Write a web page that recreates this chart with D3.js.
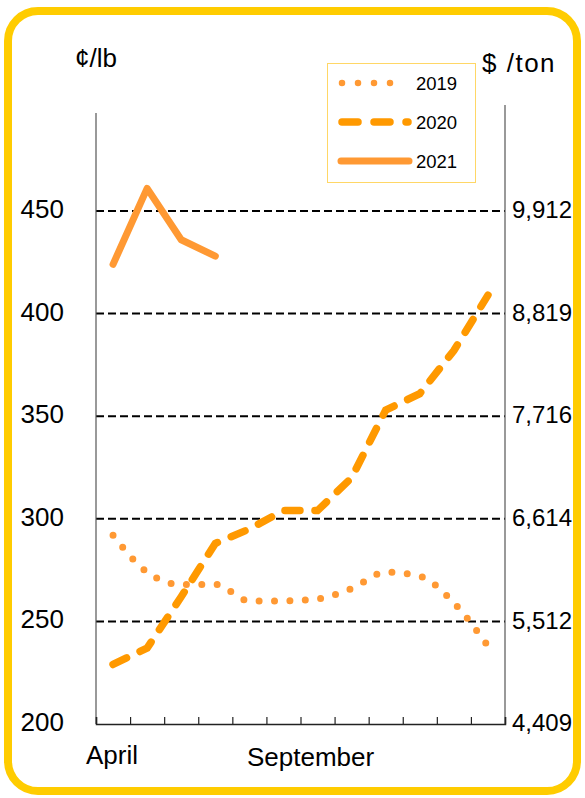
<!DOCTYPE html>
<html>
<head>
<meta charset="utf-8">
<script src="https://cdn.jsdelivr.net/npm/d3@7"></script>
<style>
  body { margin: 0; background: #fff; }
  svg { display: block; font-family: "Liberation Sans", Arial, sans-serif; }
</style>
</head>
<body>
<script>
// Data
const months = ["Apr", "May", "Jun", "Jul", "Aug", "Sep", "Oct", "Nov", "Dec", "Jan", "Feb", "Mar"];
const monthLabels = [{ i: 0, text: "April" }, { i: 5, text: "September" }];
const series2019 = [292, 274, 268, 268, 260, 260, 261, 266, 274, 272, 259, 238];
const series2020 = [229, 237, 262, 288, 295, 304, 304, 320, 353, 361, 382, 409];
const series2021 = [424, 461, 436, 428];
const leftTicks = [200, 250, 300, 350, 400, 450];
const rightTickLabels = ["4,409", "5,512", "6,614", "7,716", "8,819", "9,912"];

const width = 585, height = 798;
const margin = { left: 96, right: 80, top: 100, bottom: 74 };

const svg = d3.select("body").append("svg")
    .attr("width", width)
    .attr("height", height);

// Yellow frame
svg.append("rect")
    .attr("x", 8).attr("y", 11)
    .attr("width", 569).attr("height", 780)
    .attr("rx", 30).attr("ry", 30)
    .attr("fill", "white")
    .attr("stroke", "#FFCC00")
    .attr("stroke-width", 8);

const x = d3.scaleLinear().domain([0, 12]).range([margin.left, width - margin.right]);
const y = d3.scaleLinear().domain([200, 450]).range([724, 211]);

// Gridlines
svg.selectAll(".grid")
    .data(leftTicks.filter(d => d > 200))
    .enter()
    .append("line")
    .attr("class", "grid")
    .attr("x1", x(0))
    .attr("x2", x(12))
    .attr("y1", d => y(d))
    .attr("y2", d => y(d))
    .attr("stroke", "#000")
    .attr("stroke-width", 2)
    .attr("stroke-dasharray", "8 4");

// Axes lines
svg.append("line")
    .attr("x1", x(0)).attr("x2", x(0))
    .attr("y1", 113).attr("y2", y(200))
    .attr("stroke", "#555").attr("stroke-width", 1.2);
svg.append("line")
    .attr("x1", x(12)).attr("x2", x(12))
    .attr("y1", 105).attr("y2", y(200))
    .attr("stroke", "#555").attr("stroke-width", 1.2);

// Bottom axis with ticks pointing up
const xAxis = d3.axisBottom(x).tickValues(d3.range(0, 13)).tickSize(-7).tickFormat("");
const gx = svg.append("g")
    .attr("transform", `translate(0,${y(200)})`)
    .call(xAxis);
gx.select(".domain").attr("stroke", "#222").attr("stroke-width", 1.5);
gx.selectAll(".tick line").attr("stroke", "#222").attr("stroke-width", 1.2);

// Left tick labels
svg.selectAll(".leftLabels")
    .data(leftTicks)
    .enter()
    .append("text")
    .attr("class", "leftLabels")
    .attr("x", 64)
    .attr("y", d => y(d))
    .attr("dy", "0.27em")
    .attr("text-anchor", "end")
    .style("font-size", "26px")
    .text(d => d);

// Right tick labels
svg.selectAll(".rightLabels")
    .data(leftTicks)
    .enter()
    .append("text")
    .attr("class", "rightLabels")
    .attr("x", 512)
    .attr("y", d => y(d))
    .attr("dy", "0.3em")
    .style("font-size", "24px")
    .text((d, i) => rightTickLabels[i]);

// Unit labels
svg.append("text").attr("x", 75).attr("y", 67).style("font-size", "26px").text("¢/lb");
svg.append("text").attr("x", 482).attr("y", 72).style("font-size", "26px")
    .style("letter-spacing", "1.5px").text("$ /ton");

// Month labels
svg.selectAll(".monthLabels")
    .data(monthLabels)
    .enter()
    .append("text")
    .attr("class", "monthLabels")
    .attr("x", d => d.i === 0 ? 86 : 247)
    .attr("y", d => d.i === 0 ? 764 : 766)
    .style("font-size", "26px")
    .text(d => d.text);

// Lines
const line = d3.line()
    .x((d, i) => x(i + 0.5))
    .y(d => y(d));

svg.append("path")
    .datum(series2019)
    .attr("d", line.curve(d3.curveMonotoneX))
    .attr("fill", "none")
    .attr("stroke", "#FF9933")
    .attr("stroke-width", 7)
    .attr("stroke-linecap", "round")
    .attr("stroke-dasharray", "0 15.4");

svg.append("path")
    .datum(series2020)
    .attr("d", line.curve(d3.curveLinear))
    .attr("fill", "none")
    .attr("stroke", "#FF9900")
    .attr("stroke-width", 7.5)
    .attr("stroke-linecap", "round")
    .attr("stroke-dasharray", "15 15");

svg.append("path")
    .datum(series2021)
    .attr("d", line.curve(d3.curveLinear))
    .attr("fill", "none")
    .attr("stroke", "#FF9933")
    .attr("stroke-width", 7)
    .attr("stroke-linecap", "round")
    .attr("stroke-linejoin", "round");

// Legend
const legendItems = [
    { name: "2019", color: "#FF9933", dash: "0 16", w: 6.5, x1: 342, x2: 406 },
    { name: "2020", color: "#FF9900", dash: "16 16", w: 7.5, x1: 342, x2: 408 },
    { name: "2021", color: "#FF9933", dash: null, w: 7, x1: 341, x2: 409 }
];
svg.append("rect")
    .attr("x", 327.5).attr("y", 63.5)
    .attr("width", 148).attr("height", 119)
    .attr("fill", "white")
    .attr("stroke", "#FFD766")
    .attr("stroke-width", 1);
const lg = svg.selectAll(".legend")
    .data(legendItems)
    .enter()
    .append("g")
    .attr("class", "legend")
    .attr("transform", (d, i) => `translate(0,${83 + i * 39})`);
lg.append("line")
    .attr("x1", d => d.x1).attr("x2", d => d.x2)
    .attr("stroke", d => d.color)
    .attr("stroke-width", d => d.w)
    .attr("stroke-linecap", "round")
    .attr("stroke-dasharray", d => d.dash);
lg.append("text")
    .attr("x", 416)
    .attr("dy", "0.36em")
    .style("font-size", "18.5px")
    .text(d => d.name);
</script>
</body>
</html>
